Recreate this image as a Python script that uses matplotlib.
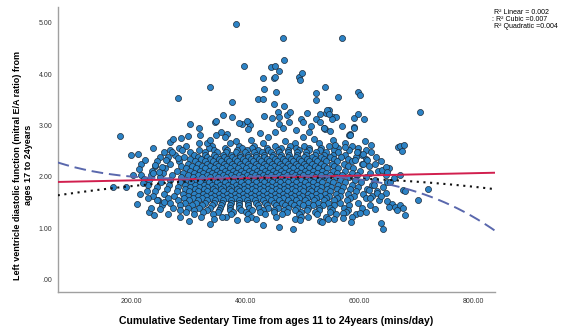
import numpy as np
import matplotlib
matplotlib.use("Agg")
import matplotlib.pyplot as plt

plt.rcParams['font.family'] = ['Liberation Sans', 'DejaVu Sans']

# --- core of the cloud: one row per E/A level, sedentary minutes along it ---
row_levels = [2.66, 2.61, 2.57, 2.52, 2.48, 2.43, 2.39, 2.34, 2.30, 2.25, 2.21, 2.17,
              2.12, 2.08, 2.03, 1.99, 1.94, 1.90, 1.85, 1.81, 1.76, 1.72, 1.67, 1.63,
              1.58, 1.54, 1.49, 1.45, 1.40, 1.36, 1.31, 1.27, 1.22, 1.18]
row_minutes = [
    [318, 372, 431, 486, 529, 574],
    [296, 341, 389, 415, 452, 478, 503, 547, 586],
    [283, 336, 364, 393, 411, 437, 462, 489, 511, 532, 563, 598],
    [268, 318, 345, 367, 385, 402, 421, 440, 457, 475, 493, 512, 531, 556, 581, 612],
    [257, 302, 329, 349, 366, 383, 399, 414, 429, 444, 459, 474, 490, 506, 523, 541, 562, 597, 621],
    [276, 309, 328, 344, 360, 375, 390, 405, 419, 433, 448, 462, 477, 491, 506, 521, 537, 554, 574, 604],
    [249, 291, 316, 333, 348, 362, 376, 390, 404, 418, 432, 446, 460, 474, 488, 502, 517, 532, 548, 567, 593, 629],
    [262, 302, 322, 338, 353, 367, 381, 395, 409, 423, 437, 451, 465, 479, 493, 507, 522, 538, 556, 579, 611],
    [245, 283, 311, 328, 343, 357, 371, 385, 399, 413, 427, 441, 455, 469, 483, 497, 511, 526, 542, 561, 586, 637],
    [268, 298, 317, 333, 348, 362, 376, 390, 404, 418, 432, 446, 460, 474, 488, 502, 517, 533, 551, 573, 604],
    [240, 286, 306, 323, 338, 352, 366, 380, 394, 408, 422, 436, 450, 464, 478, 492, 506, 521, 537, 555, 579, 617],
    [258, 295, 313, 329, 344, 358, 372, 386, 400, 414, 428, 442, 456, 470, 484, 498, 512, 527, 543, 562, 588, 652],
    [236, 279, 302, 319, 335, 350, 364, 378, 392, 406, 420, 434, 448, 462, 476, 490, 504, 519, 535, 553, 574, 601, 633],
    [255, 290, 310, 326, 341, 355, 369, 383, 397, 411, 425, 439, 453, 467, 481, 495, 510, 525, 542, 561, 586, 618],
    [233, 271, 299, 316, 332, 347, 361, 375, 389, 403, 417, 431, 445, 459, 473, 487, 501, 516, 532, 549, 569, 596, 646],
    [249, 287, 307, 323, 338, 352, 366, 380, 394, 408, 422, 436, 450, 464, 478, 492, 507, 522, 539, 558, 581, 611],
    [230, 268, 296, 313, 329, 344, 358, 372, 386, 400, 414, 428, 442, 456, 470, 484, 498, 513, 529, 546, 566, 592, 627],
    [251, 284, 304, 320, 335, 349, 363, 377, 391, 405, 419, 433, 447, 461, 475, 489, 504, 519, 535, 553, 575, 603, 649],
    [228, 266, 294, 311, 327, 341, 355, 369, 383, 397, 411, 425, 439, 453, 467, 481, 495, 510, 526, 543, 562, 587, 622],
    [245, 281, 302, 318, 333, 347, 361, 375, 389, 403, 417, 431, 445, 459, 473, 487, 501, 516, 532, 550, 571, 598, 641],
    [262, 293, 311, 327, 342, 356, 370, 384, 398, 412, 426, 440, 454, 468, 482, 496, 511, 526, 543, 561, 583, 613],
    [240, 279, 301, 317, 332, 346, 360, 374, 388, 402, 416, 430, 444, 458, 472, 486, 500, 515, 531, 548, 568, 594, 631],
    [256, 290, 309, 325, 340, 354, 368, 382, 396, 410, 424, 438, 452, 466, 480, 494, 509, 524, 540, 558, 579, 607],
    [237, 274, 299, 316, 331, 345, 359, 373, 387, 401, 415, 429, 443, 457, 471, 485, 499, 514, 530, 547, 566, 591, 622],
    [264, 291, 308, 324, 339, 353, 367, 381, 395, 409, 423, 437, 451, 465, 479, 493, 508, 524, 541, 560, 584, 612],
    [246, 281, 301, 317, 332, 347, 361, 375, 389, 403, 417, 431, 445, 459, 474, 489, 504, 520, 537, 556, 578, 634],
    [268, 294, 312, 328, 344, 359, 374, 389, 404, 419, 434, 449, 464, 479, 494, 510, 527, 545, 565, 597],
    [253, 285, 306, 324, 341, 357, 373, 389, 405, 421, 437, 453, 469, 485, 501, 518, 536, 556, 581, 619],
    [272, 298, 318, 337, 355, 372, 389, 406, 423, 440, 457, 474, 491, 509, 528, 549, 573, 604],
    [284, 310, 332, 353, 373, 392, 411, 430, 449, 468, 487, 507, 528, 551, 579],
    [296, 326, 352, 377, 401, 425, 449, 473, 497, 522, 548, 576, 612],
    [309, 343, 374, 404, 434, 464, 494, 525, 558, 593],
    [321, 366, 410, 453, 497, 541, 587],
    [344, 418, 487, 556],
]

# --- scattered points outside the dense core ---
extra_minutes = [
    383, 466, 569, 398, 468, 444, 451, 449, 452, 458, 494, 499, 495, 338, 282,
    430, 432, 422, 430, 454, 376, 524, 524, 539, 562, 597, 601, 450, 468, 706,
    546, 541, 531, 553, 558, 552, 591, 598, 608, 360, 376, 394, 404, 408, 433,
    457, 458, 472, 478, 476, 302, 346, 348, 388, 402, 447, 459, 498, 500, 507,
    515, 523, 531, 543, 547, 570, 590,
    538, 539, 549, 591, 583, 318, 368, 364, 405, 465, 512, 537, 582, 584, 554,
    557, 575, 320, 332, 338, 348, 287, 298, 267, 272, 180, 238, 425, 440, 452,
    488, 500, 520, 410, 383, 357, 470, 610, 620,
    668, 671, 678, 674, 596, 607, 613, 628, 639, 647, 661, 648, 671, 654, 626,
    631, 646, 637, 648, 657, 663, 651, 619, 616, 677, 680, 721, 703, 671, 628,
    666, 677, 680, 637, 642, 607, 592, 600,
    384, 402, 431, 459, 483, 496, 510, 531, 545, 534, 571, 571, 585, 300, 338,
    358, 285, 264,
    198, 211, 216, 202, 217, 190, 167, 209, 215, 231, 239, 250, 244, 256, 264,
    270, 282, 288, 260, 253, 241, 238, 247, 222, 226, 220, 212, 229, 234, 224,
]
extra_ea = [
    4.98, 4.70, 4.71, 4.16, 4.27, 4.14, 4.16, 3.92, 3.95, 4.07, 3.95, 4.03, 3.88, 3.76, 3.54,
    3.92, 3.72, 3.51, 3.51, 3.65, 3.46, 3.63, 3.49, 3.76, 3.55, 3.66, 3.59, 3.41, 3.38, 3.27,
    3.31, 3.24, 3.22, 3.17, 3.16, 3.12, 3.14, 3.23, 3.13, 3.20, 3.16, 3.03, 3.07, 3.01, 3.18,
    3.27, 3.17, 3.20, 3.27, 3.07, 3.03, 3.06, 3.09, 3.04, 3.09, 3.15, 3.03, 3.13, 3.07, 3.24,
    2.99, 3.13, 3.07, 3.30, 3.23, 3.00, 2.97,
    2.95, 2.93, 2.90, 2.95, 2.83, 2.96, 2.84, 2.78, 2.94, 2.96, 2.87, 2.96, 2.82, 2.81, 2.72,
    2.62, 2.58, 2.81, 2.65, 2.72, 2.81, 2.75, 2.80, 2.68, 2.73, 2.80, 2.57, 2.86, 2.78, 2.88,
    2.92, 2.78, 2.74, 2.72, 2.70, 2.88, 2.70, 2.70, 2.62,
    2.58, 2.60, 2.62, 2.51, 2.48, 2.45, 2.33, 2.25, 2.13, 2.19, 1.97, 2.10, 2.03, 1.90, 1.85,
    1.68, 1.69, 1.62, 1.53, 1.47, 1.42, 1.42, 1.58, 1.74, 1.74, 1.72, 1.76, 1.55, 1.45, 1.38,
    1.36, 1.40, 1.25, 1.10, 0.99, 2.26, 2.33, 1.30,
    1.16, 1.17, 1.07, 1.03, 0.99, 1.16, 1.21, 1.14, 1.17, 1.12, 1.29, 1.19, 1.12, 1.13, 1.09,
    1.22, 1.21, 1.27,
    2.42, 2.44, 2.26, 2.03, 2.03, 1.81, 1.80, 1.47, 1.66, 1.31, 1.25, 1.37, 1.55, 1.51, 2.39,
    2.49, 2.36, 2.53, 2.33, 2.19, 2.23, 2.07, 2.10, 1.95, 1.73, 1.88, 2.15, 1.58, 1.40, 2.33,
]

# fit lines (t = (minutes - 450) / 100)
linear_coef = [1.884, 0.000234]                      # a + b*x
quadratic_coef = [1.987, 494.6, 1.923e-6]            # k - a*(x - h)^2
cubic_coef = [2.018, 0.02293, -0.02581, -0.013156]  # in t

fit_labels = ["R² Linear = 0.002", ": R² Cubic =0.007", "R² Quadratic =0.004"]
x_ticks = [200, 400, 600, 800]
y_ticks = [0, 1, 2, 3, 4, 5]

xs = [m for row in row_minutes for m in row] + extra_minutes
ys = [lv for lv, row in zip(row_levels, row_minutes) for _ in row] + extra_ea

fig = plt.figure(figsize=(5.61, 3.32), dpi=100)
ax = fig.add_axes([0.1029, 0.1196, 0.7795, 0.8593])

ax.scatter(xs, ys, s=19, c='#2c83c6', edgecolors='#1b2a3a', linewidths=0.5, zorder=2)

xline = np.linspace(70, 838, 200)
t = (xline - 450) / 100
ax.plot(xline, linear_coef[0] + linear_coef[1] * xline, color='#d11f4e', lw=1.4, zorder=3)
ax.plot(xline, quadratic_coef[0] - quadratic_coef[2] * (xline - quadratic_coef[1]) ** 2,
        color='#111111', lw=1.5, ls=(0, (1, 2.2)), zorder=3)
ax.plot(xline, cubic_coef[0] + cubic_coef[1] * t + cubic_coef[2] * t ** 2 + cubic_coef[3] * t ** 3,
        color='#5a68ad', lw=1.4, ls=(0, (6, 3)), zorder=3)

ax.set_xlim(70, 838)
ax.set_ylim(-0.25, 5.31)
ax.set_xticks(x_ticks)
ax.set_xticklabels([f"{v:.2f}" for v in x_ticks])
ax.set_yticks(y_ticks)
ax.set_yticklabels([".00"] + [f"{v:.2f}" for v in y_ticks[1:]])
ax.tick_params(length=0, labelsize=5, colors='#333333', pad=4)
for side in ['top', 'right']:
    ax.spines[side].set_visible(False)
for side in ['left', 'bottom']:
    ax.spines[side].set_color('#a0a0a0')
    ax.spines[side].set_linewidth(1.0)

ax.set_xlabel("Cumulative Sedentary Time from ages 11 to 24years (mins/day)",
              fontsize=7.6, fontweight='bold', labelpad=8)
ax.set_ylabel("Left ventricle diastolic function (mitral E/A ratio) from\nages 17 to 24years",
              fontsize=6.5, fontweight='bold', linespacing=1.2)
ax.yaxis.set_label_coords(-0.057, 0.446)

for i, lab in enumerate(fit_labels):
    x0 = 492.5 if i == 1 else 494.5
    fig.text(x0 / 561, 1 - (12.7 + i * 7) / 332, lab, fontsize=5.0, va='center', ha='left')

fig.savefig("out.png", dpi=100)
